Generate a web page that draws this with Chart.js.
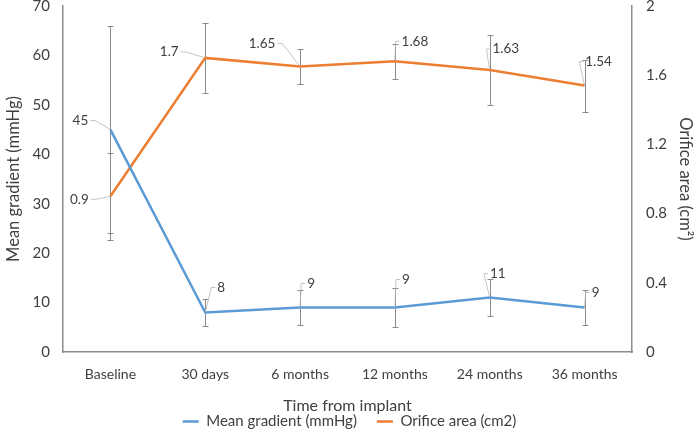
<!DOCTYPE html>
<html>
<head>
<meta charset="utf-8">
<script src="https://cdn.jsdelivr.net/npm/chart.js@4"></script>
<style>
  html, body { margin: 0; padding: 0; background: #fff; }
  #wrap { width: 699px; height: 436px; }
</style>
</head>
<body>
<div id="wrap"><canvas id="Chart1"></canvas></div>
<script>
// data
var timepoints = ['Baseline', '30 days', '6 months', '12 months', '24 months', '36 months'];
var gradientMean = [45, 8, 9, 9, 11, 9];
var gradientErr = [21, 2.8, 3.6, 4, 3.7, 3.6];
var areaMean = [0.9, 1.7, 1.65, 1.68, 1.63, 1.54];
var areaErr = [0.25, 0.2, 0.1, 0.1, 0.2, 0.15];
var gradientTicks = [0, 10, 20, 30, 40, 50, 60, 70];
var areaTicks = [0, 0.4, 0.8, 1.2, 1.6, 2];

var fontName = 'Lato, "Liberation Sans", sans-serif';
var textColor = '#404040';
var axisColor = '#8c8c8c';

// error bars drawn under the lines, value labels with leader lines on top
var errorBarsAndLabels = {
	id: 'errorBarsAndLabels',
	beforeDatasetsDraw: function (chart) {
		var ctx = chart.ctx;
		ctx.save();
		ctx.strokeStyle = '#8a8a8a';
		ctx.lineWidth = 1;
		chart.data.datasets.forEach(function (ds, i) {
			var meta = chart.getDatasetMeta(i);
			var scale = chart.scales[ds.yAxisID];
			meta.data.forEach(function (pt, j) {
				var v = ds.data[j], e = ds.errors[j];
				var yt = Math.round(scale.getPixelForValue(v + e)) + 0.5;
				var yb = Math.round(scale.getPixelForValue(v - e)) + 0.5;
				var x = Math.round(pt.x) + 0.5;
				ctx.beginPath();
				ctx.moveTo(x, yt); ctx.lineTo(x, yb);
				ctx.moveTo(x - 3, yt); ctx.lineTo(x + 3, yt);
				ctx.moveTo(x - 3, yb); ctx.lineTo(x + 3, yb);
				ctx.stroke();
			});
		});
		ctx.restore();
	},
	afterDatasetsDraw: function (chart, args, opts) {
		var ctx = chart.ctx;
		ctx.save();
		ctx.font = '13.5px ' + fontName;
		ctx.textBaseline = 'middle';
		ctx.textAlign = 'center';
		chart.data.datasets.forEach(function (ds, i) {
			var meta = chart.getDatasetMeta(i);
			var offs = opts.offsets[i];
			meta.data.forEach(function (pt, j) {
				var txt = String(ds.data[j]);
				var tx = pt.x + offs[j][0], ty = pt.y + offs[j][1];
				var w = ctx.measureText(txt).width;
				var ax = offs[j][0] < 0 ? tx + w / 2 + 2 : tx - w / 2 - 2;
				ctx.strokeStyle = '#b5b5b5';
				ctx.lineWidth = 0.8;
				ctx.beginPath();
				ctx.moveTo(ax, ty);
				ctx.lineTo(ax + (offs[j][0] < 0 ? 5 : -4), ty);
				ctx.lineTo(pt.x, pt.y);
				ctx.stroke();
				ctx.fillStyle = textColor;
				ctx.fillText(txt, tx, ty);
			});
		});
		ctx.restore();
	}
};

function fixLeft(s) { s.width = 63; s.paddingTop = 6; s.paddingBottom = 0; }
function fixRight(s) { s.width = 67; s.paddingTop = 6; s.paddingBottom = 0; }

var context = document.getElementById('Chart1').getContext('2d');

var myChart = new Chart(context, {
	type: 'line',
	data: {
		labels: timepoints,
		datasets: [{
			label: 'Mean gradient (mmHg)',
			data: gradientMean,
			errors: gradientErr,
			yAxisID: 'y',
			borderColor: '#5B9BD5',
			backgroundColor: '#5B9BD5',
			borderWidth: 2.5,
			pointRadius: 0,
			tension: 0
		}, {
			label: 'Orifice area (cm2)',
			data: areaMean,
			errors: areaErr,
			yAxisID: 'y1',
			borderColor: '#ED7D31',
			backgroundColor: '#ED7D31',
			borderWidth: 2.5,
			pointRadius: 0,
			tension: 0
		}]
	},
	options: {
		responsive: true,
		maintainAspectRatio: false,
		animation: false,
		layout: { padding: { top: 0, left: 0, right: 0, bottom: -3 } },
		plugins: {
			tooltip: { enabled: false },
			legend: {
				position: 'bottom',
				labels: {
					usePointStyle: true,
					pointStyle: 'line',
					pointStyleWidth: 16,
					boxHeight: 8,
					padding: 20,
					color: textColor,
					font: { family: fontName, size: 15 }
				}
			},
			errorBarsAndLabels: {
				offsets: [
					[[-30, -9], [16, -25], [11, -24], [11, -28], [8, -24], [11, -15]],
					[[-31, 3], [-36, -6], [-38, -23], [20, -20], [16, -21], [14, -24]]
				]
			}
		},
		scales: {
			x: {
				offset: true,
				afterFit: function (s) { s.height = 42; },
				grid: { display: false, drawTicks: false },
				border: { display: true, color: axisColor, width: 1.5 },
				ticks: { color: textColor, padding: 14, font: { family: fontName, size: 14 } },
				title: { display: true, text: 'Time from implant', color: textColor, padding: { top: 4, bottom: -21 }, font: { family: fontName, size: 16 } }
			},
			y: {
				position: 'left',
				min: 0, max: 70,
				afterBuildTicks: function (s) { s.ticks = gradientTicks.map(function (v) { return { value: v }; }); },
				afterFit: fixLeft,
				grid: { display: false, drawTicks: false },
				border: { display: true, color: axisColor, width: 1.5 },
				ticks: { color: textColor, padding: 13, font: { family: fontName, size: 15 } },
				title: { display: true, text: 'Mean gradient (mmHg)', color: textColor, padding: 4, font: { family: fontName, size: 16.5 } }
			},
			y1: {
				position: 'right',
				min: 0, max: 2,
				afterBuildTicks: function (s) { s.ticks = areaTicks.map(function (v) { return { value: v }; }); },
				afterFit: fixRight,
				grid: { display: false, drawTicks: false },
				border: { display: true, color: axisColor, width: 1.5 },
				ticks: {
					color: textColor, padding: 14, font: { family: fontName, size: 15 },
					callback: function (v) { return String(v); }
				},
				title: { display: true, text: 'Orifice area (cm\u00B2)', color: textColor, padding: 4, font: { family: fontName, size: 16.5 } }
			}
		}
	},
	plugins: [errorBarsAndLabels]
});
</script>
</body>
</html>
